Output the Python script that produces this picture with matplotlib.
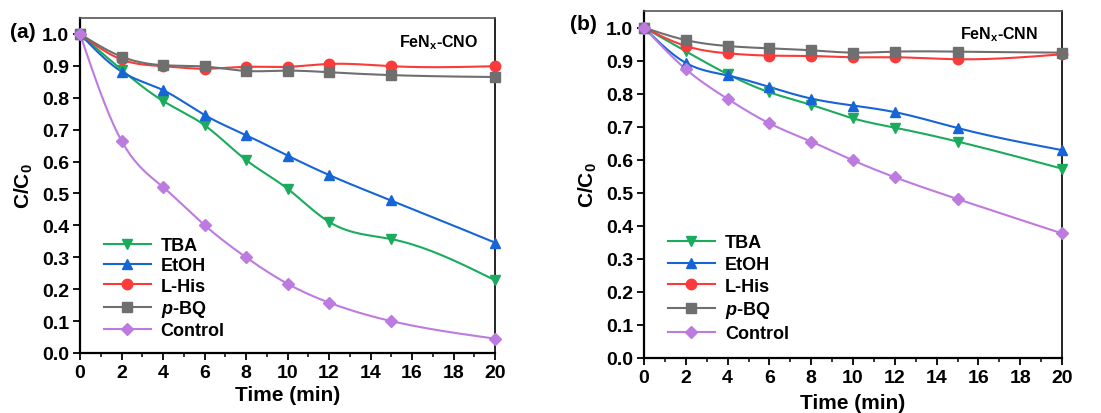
import numpy as np
import matplotlib
matplotlib.use("Agg")
import matplotlib.pyplot as plt
from matplotlib.ticker import MultipleLocator, FormatStrFormatter

plt.rcParams['font.family'] = ['Liberation Sans', 'DejaVu Sans']
plt.rcParams['font.weight'] = 'bold'
plt.rcParams['mathtext.fontset'] = 'custom'
plt.rcParams['mathtext.rm'] = 'Liberation Sans:bold'
plt.rcParams['mathtext.it'] = 'Liberation Sans:bold:italic'
plt.rcParams['mathtext.bf'] = 'Liberation Sans:bold'

time_min = [0, 2, 4, 6, 8, 10, 12, 15, 20]

# FeNx-CNO
cno_tba = [1.0, 0.888, 0.790, 0.714, 0.605, 0.515, 0.411, 0.357, 0.228]
cno_etoh = [1.0, 0.882, 0.824, 0.746, 0.683, 0.619, 0.558, 0.478, 0.346]
cno_his = [1.0, 0.920, 0.899, 0.891, 0.897, 0.897, 0.906, 0.899, 0.899]
cno_bq = [1.0, 0.929, 0.902, 0.898, 0.884, 0.885, 0.880, 0.871, 0.865]
cno_ctrl = [1.0, 0.665, 0.520, 0.401, 0.300, 0.217, 0.158, 0.100, 0.045]

# FeNx-CNN
cnn_tba = [1.0, 0.928, 0.859, 0.804, 0.766, 0.725, 0.697, 0.655, 0.573]
cnn_etoh = [1.0, 0.893, 0.855, 0.820, 0.785, 0.764, 0.744, 0.696, 0.629]
cnn_his = [1.0, 0.944, 0.922, 0.915, 0.914, 0.910, 0.910, 0.904, 0.919]
cnn_bq = [1.0, 0.962, 0.944, 0.937, 0.931, 0.924, 0.927, 0.927, 0.924]
cnn_ctrl = [1.0, 0.874, 0.784, 0.710, 0.655, 0.598, 0.547, 0.481, 0.377]

labels = ['TBA', 'EtOH', r'L-His', r'$\it{p}$-BQ', 'Control']
colors = ['#1aab5c', '#1565d6', '#fb3a3a', '#6f6f6f', '#bd7be0']
markers = ['v', '^', 'o', 's', 'D']


def natural_spline(x, y, n=200):
    """Smooth connecting curve through the measured points."""
    x = np.asarray(x, float)
    y = np.asarray(y, float)
    k = len(x)
    h = np.diff(x)
    A = np.zeros((k, k))
    b = np.zeros(k)
    A[0, 0] = A[-1, -1] = 1.0
    for i in range(1, k - 1):
        A[i, i - 1] = h[i - 1]
        A[i, i] = 2 * (h[i - 1] + h[i])
        A[i, i + 1] = h[i]
        b[i] = 3 * ((y[i + 1] - y[i]) / h[i] - (y[i] - y[i - 1]) / h[i - 1])
    c = np.linalg.solve(A, b)
    xs = np.linspace(x[0], x[-1], n)
    idx = np.clip(np.searchsorted(x, xs) - 1, 0, k - 2)
    dx = xs - x[idx]
    hi = h[idx]
    bi = (y[idx + 1] - y[idx]) / hi - hi * (2 * c[idx] + c[idx + 1]) / 3
    di = (c[idx + 1] - c[idx]) / (3 * hi)
    ys = y[idx] + bi * dx + c[idx] * dx ** 2 + di * dx ** 3
    return xs, ys


fig = plt.figure(figsize=(11.01, 4.14), dpi=100)
ax1 = fig.add_axes([80 / 1101, 1 - 354 / 414, 415 / 1101, 335 / 414])
ax2 = fig.add_axes([644 / 1101, 1 - 359 / 414, 418 / 1101, 347 / 414])


def draw(ax, series, tag, sample, label_xy, sample_xy, legend_anchor,
         spacing, xlabelpad):
    for y, lab, col, mk in zip(series, labels, colors, markers):
        ms = 7.5 if mk != 'D' else 6.5
        xs, ys = natural_spline(time_min, y)
        ax.plot(xs, ys, color=col, lw=1.5, zorder=2)
        ax.plot(time_min, y, ls='none', marker=mk, color=col,
                ms=ms, zorder=3, clip_on=False)
        ax.plot([], [], color=col, lw=1.5, marker=mk, ms=ms, label=lab)
    ax.set_xlim(0, 20)
    ax.set_ylim(0, 1.05)
    ax.xaxis.set_major_locator(MultipleLocator(2))
    ax.xaxis.set_minor_locator(MultipleLocator(1))
    ax.yaxis.set_major_locator(MultipleLocator(0.1))
    ax.yaxis.set_major_formatter(FormatStrFormatter('%.1f'))
    ax.tick_params(axis='both', which='major', direction='out', length=5,
                   width=1.3, labelsize=14, pad=3)
    ax.tick_params(axis='x', which='minor', direction='out', length=3, width=1.1)
    ax.tick_params(axis='x', which='major', pad=3)
    for s in ['left', 'bottom']:
        ax.spines[s].set_linewidth(1.6)
    ax.spines['right'].set_linewidth(1.2)
    ax.spines['top'].set_linewidth(1.2)
    ax.spines['top'].set_color('#555555')
    for t in ax.get_xticklabels() + ax.get_yticklabels():
        t.set_fontweight('bold')
    ax.set_xlabel('Time (min)', fontsize=15, fontweight='bold', labelpad=xlabelpad)
    ax.set_ylabel(r'C/C$_\mathregular{0}$', fontsize=15, fontweight='bold', labelpad=5)
    ax.text(sample_xy[0], sample_xy[1], sample, transform=ax.transAxes,
            fontsize=11.5, fontweight='bold', ha='center', va='center')
    fig.text(label_xy[0], label_xy[1], tag, fontsize=15, fontweight='bold',
             ha='left', va='center')
    ax.legend(loc='lower left', bbox_to_anchor=legend_anchor, frameon=False,
              fontsize=13, handlelength=2.6, handletextpad=0.55,
              labelspacing=spacing, borderaxespad=0)


draw(ax1, [cno_tba, cno_etoh, cno_his, cno_bq, cno_ctrl], '(a)',
     r'FeN$_\mathregular{x}$-CNO', (10 / 1101, 1 - 33 / 414), (0.865, 0.928),
     (0.04, 0.02), 0.18, 3)
draw(ax2, [cnn_tba, cnn_etoh, cnn_his, cnn_bq, cnn_ctrl], '(b)',
     r'FeN$_\mathregular{x}$-CNN', (570 / 1101, 1 - 24 / 414), (0.849, 0.934),
     (0.04, 0.025), 0.26, 5)

fig.savefig('out.png', dpi=100)
